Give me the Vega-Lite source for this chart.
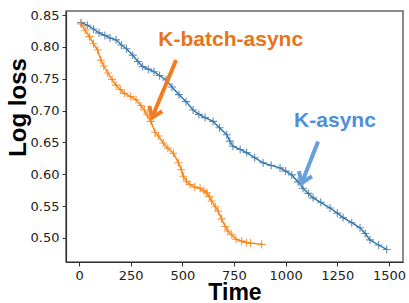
{
  "$schema": "https://vega.github.io/schema/vega-lite/v6.json",
  "width": 337,
  "height": 251,
  "autosize": "none",
  "padding": {"left": 66, "top": 11, "right": 6, "bottom": 41},
  "config": {
    "view": {"stroke": "#666", "strokeWidth": 1.5},
    "axis": {"grid": false, "labelFont": "DejaVu Sans", "labelFontSize": 13, "labelColor": "#222", "tickColor": "#333", "domainColor": "#333", "domainWidth": 1.2, "tickSize": 4, "labelPadding": 3, "labelOverlap": false, "labelFlush": false},
    "axisY": {"labelOverlap": false},
    "axisQuantitative": {"labelOverlap": false}
  },
  "datasets": {
    "curves": [
      {"series": "K-async", "x": 10, "y": 0.838},
      {"series": "K-async", "x": 40, "y": 0.834},
      {"series": "K-async", "x": 70, "y": 0.828},
      {"series": "K-async", "x": 97, "y": 0.822},
      {"series": "K-async", "x": 125, "y": 0.818},
      {"series": "K-async", "x": 150, "y": 0.814},
      {"series": "K-async", "x": 179, "y": 0.811},
      {"series": "K-async", "x": 205, "y": 0.803},
      {"series": "K-async", "x": 230, "y": 0.797},
      {"series": "K-async", "x": 260, "y": 0.787},
      {"series": "K-async", "x": 285, "y": 0.777},
      {"series": "K-async", "x": 308, "y": 0.769},
      {"series": "K-async", "x": 335, "y": 0.765},
      {"series": "K-async", "x": 363, "y": 0.761},
      {"series": "K-async", "x": 390, "y": 0.755},
      {"series": "K-async", "x": 421, "y": 0.748},
      {"series": "K-async", "x": 450, "y": 0.737},
      {"series": "K-async", "x": 484, "y": 0.725},
      {"series": "K-async", "x": 518, "y": 0.714},
      {"series": "K-async", "x": 552, "y": 0.701},
      {"series": "K-async", "x": 580, "y": 0.694},
      {"series": "K-async", "x": 610, "y": 0.689},
      {"series": "K-async", "x": 649, "y": 0.683},
      {"series": "K-async", "x": 680, "y": 0.673},
      {"series": "K-async", "x": 715, "y": 0.662},
      {"series": "K-async", "x": 730, "y": 0.652},
      {"series": "K-async", "x": 745, "y": 0.644},
      {"series": "K-async", "x": 780, "y": 0.639},
      {"series": "K-async", "x": 811, "y": 0.634},
      {"series": "K-async", "x": 850, "y": 0.626},
      {"series": "K-async", "x": 891, "y": 0.618},
      {"series": "K-async", "x": 930, "y": 0.614},
      {"series": "K-async", "x": 973, "y": 0.610},
      {"series": "K-async", "x": 1000, "y": 0.605},
      {"series": "K-async", "x": 1030, "y": 0.599},
      {"series": "K-async", "x": 1060, "y": 0.588},
      {"series": "K-async", "x": 1084, "y": 0.578},
      {"series": "K-async", "x": 1110, "y": 0.570},
      {"series": "K-async", "x": 1133, "y": 0.563},
      {"series": "K-async", "x": 1170, "y": 0.556},
      {"series": "K-async", "x": 1215, "y": 0.547},
      {"series": "K-async", "x": 1250, "y": 0.539},
      {"series": "K-async", "x": 1278, "y": 0.532},
      {"series": "K-async", "x": 1320, "y": 0.524},
      {"series": "K-async", "x": 1360, "y": 0.516},
      {"series": "K-async", "x": 1385, "y": 0.507},
      {"series": "K-async", "x": 1408, "y": 0.497},
      {"series": "K-async", "x": 1450, "y": 0.489},
      {"series": "K-async", "x": 1489, "y": 0.482},
      {"series": "K-batch-async", "x": 10, "y": 0.836},
      {"series": "K-batch-async", "x": 30, "y": 0.826},
      {"series": "K-batch-async", "x": 50, "y": 0.816},
      {"series": "K-batch-async", "x": 70, "y": 0.805},
      {"series": "K-batch-async", "x": 90, "y": 0.795},
      {"series": "K-batch-async", "x": 106, "y": 0.779},
      {"series": "K-batch-async", "x": 120, "y": 0.770},
      {"series": "K-batch-async", "x": 139, "y": 0.759},
      {"series": "K-batch-async", "x": 160, "y": 0.749},
      {"series": "K-batch-async", "x": 179, "y": 0.740},
      {"series": "K-batch-async", "x": 200, "y": 0.733},
      {"series": "K-batch-async", "x": 219, "y": 0.727},
      {"series": "K-batch-async", "x": 250, "y": 0.722},
      {"series": "K-batch-async", "x": 276, "y": 0.717},
      {"series": "K-batch-async", "x": 300, "y": 0.708},
      {"series": "K-batch-async", "x": 316, "y": 0.701},
      {"series": "K-batch-async", "x": 330, "y": 0.693},
      {"series": "K-batch-async", "x": 348, "y": 0.683},
      {"series": "K-batch-async", "x": 368, "y": 0.666},
      {"series": "K-batch-async", "x": 385, "y": 0.660},
      {"series": "K-batch-async", "x": 408, "y": 0.649},
      {"series": "K-batch-async", "x": 430, "y": 0.641},
      {"series": "K-batch-async", "x": 457, "y": 0.633},
      {"series": "K-batch-async", "x": 481, "y": 0.618},
      {"series": "K-batch-async", "x": 495, "y": 0.607},
      {"series": "K-batch-async", "x": 505, "y": 0.597},
      {"series": "K-batch-async", "x": 520, "y": 0.589},
      {"series": "K-batch-async", "x": 537, "y": 0.584},
      {"series": "K-batch-async", "x": 560, "y": 0.580},
      {"series": "K-batch-async", "x": 586, "y": 0.578},
      {"series": "K-batch-async", "x": 605, "y": 0.574},
      {"series": "K-batch-async", "x": 618, "y": 0.571},
      {"series": "K-batch-async", "x": 630, "y": 0.565},
      {"series": "K-batch-async", "x": 642, "y": 0.558},
      {"series": "K-batch-async", "x": 660, "y": 0.549},
      {"series": "K-batch-async", "x": 674, "y": 0.542},
      {"series": "K-batch-async", "x": 690, "y": 0.530},
      {"series": "K-batch-async", "x": 707, "y": 0.518},
      {"series": "K-batch-async", "x": 720, "y": 0.511},
      {"series": "K-batch-async", "x": 739, "y": 0.505},
      {"series": "K-batch-async", "x": 760, "y": 0.498},
      {"series": "K-batch-async", "x": 787, "y": 0.495},
      {"series": "K-batch-async", "x": 810, "y": 0.493},
      {"series": "K-batch-async", "x": 830, "y": 0.492},
      {"series": "K-batch-async", "x": 884, "y": 0.490}
    ],
    "labels": [
      {"label": "K-batch-async", "x": 384, "y": 0.8013},
      {"label": "K-async", "x": 1041, "y": 0.6742}
    ],
    "arrows": [
      {"label": "K-batch-async", "x": 470, "y": 0.7795, "x2": 353, "y2": 0.6886},
      {"label": "K-async", "x": 1157, "y": 0.6515, "x2": 1078, "y2": 0.5863}
    ]
  },
  "layer": [
    {
      "data": {"name": "curves"},
      "mark": {"type": "line", "strokeWidth": 1.4},
      "encoding": {
        "x": {"field": "x", "type": "quantitative", "scale": {"domain": [-63, 1568], "nice": false, "zero": false},
          "axis": {"values": [0, 250, 500, 750, 1000, 1250, 1500], "format": "d", "labelOverlap": false, "title": "Time", "titleFont": "Liberation Sans", "titleFontWeight": "bold", "titleFontSize": 23, "titleColor": "#000", "titleBaseline": "alphabetic", "titleY": 37}},
        "y": {"field": "y", "type": "quantitative", "scale": {"domain": [0.4623, 0.8563], "nice": false, "zero": false},
          "axis": {"values": [0.5, 0.55, 0.6, 0.65, 0.7, 0.75, 0.8, 0.85], "tickCount": 8, "format": ".2f", "labelOverlap": false, "title": "Log loss", "titleFont": "Liberation Sans", "titleFontWeight": "bold", "titleFontSize": 24, "titleColor": "#000", "titleAngle": -90, "titleBaseline": "alphabetic", "titleAlign": "center", "titleX": -41, "titleY": 96}},
        "color": {"field": "series", "type": "nominal", "scale": {"domain": ["K-async", "K-batch-async"], "range": ["#1f77b4", "#ff7f0e"]}, "legend": null}
      }
    },
    {
      "data": {"name": "curves"},
      "mark": {"type": "point", "shape": "M-1,0L1,0M0,-1L0,1", "filled": false, "strokeWidth": 1.1, "size": 64, "opacity": 0.85},
      "encoding": {
        "x": {"field": "x", "type": "quantitative"},
        "y": {"field": "y", "type": "quantitative"},
        "color": {"field": "series", "type": "nominal"}
      }
    },
    {
      "data": {"name": "arrows"},
      "mark": {"type": "rule", "strokeWidth": 4},
      "encoding": {
        "x": {"field": "x", "type": "quantitative"},
        "y": {"field": "y", "type": "quantitative"},
        "x2": {"field": "x2"},
        "y2": {"field": "y2"},
        "stroke": {"field": "label", "type": "nominal", "scale": {"domain": ["K-async", "K-batch-async"], "range": ["#6a9fdc", "#f47b20"]}, "legend": null}
      }
    },
    {
      "data": {"name": "arrows"},
      "transform": [{"filter": "datum.label === 'K-batch-async'"}],
      "mark": {"type": "point", "shape": "M-0.7,-1L0,0L0.7,-1", "filled": false, "strokeWidth": 4, "size": 400, "angle": 22.5, "opacity": 1, "strokeJoin": "miter"},
      "encoding": {
        "x": {"field": "x2", "type": "quantitative"},
        "y": {"field": "y2", "type": "quantitative"},
        "stroke": {"field": "label", "type": "nominal"}
      }
    },
    {
      "data": {"name": "arrows"},
      "transform": [{"filter": "datum.label === 'K-async'"}],
      "mark": {"type": "point", "shape": "M-0.7,-1L0,0L0.7,-1", "filled": false, "strokeWidth": 4, "size": 400, "angle": 21.4, "opacity": 1, "strokeJoin": "miter"},
      "encoding": {
        "x": {"field": "x2", "type": "quantitative"},
        "y": {"field": "y2", "type": "quantitative"},
        "stroke": {"field": "label", "type": "nominal"}
      }
    },
    {
      "data": {"name": "labels"},
      "mark": {"type": "text", "font": "Liberation Sans", "fontWeight": "bold", "fontSize": 21, "align": "left", "baseline": "alphabetic"},
      "encoding": {
        "x": {"field": "x", "type": "quantitative"},
        "y": {"field": "y", "type": "quantitative"},
        "text": {"field": "label"},
        "color": {"field": "label", "type": "nominal", "scale": {"domain": ["K-async", "K-batch-async"], "range": ["#4e8fd6", "#e8731a"]}, "legend": null}
      }
    }
  ],
  "resolve": {"scale": {"color": "independent"}}
}
